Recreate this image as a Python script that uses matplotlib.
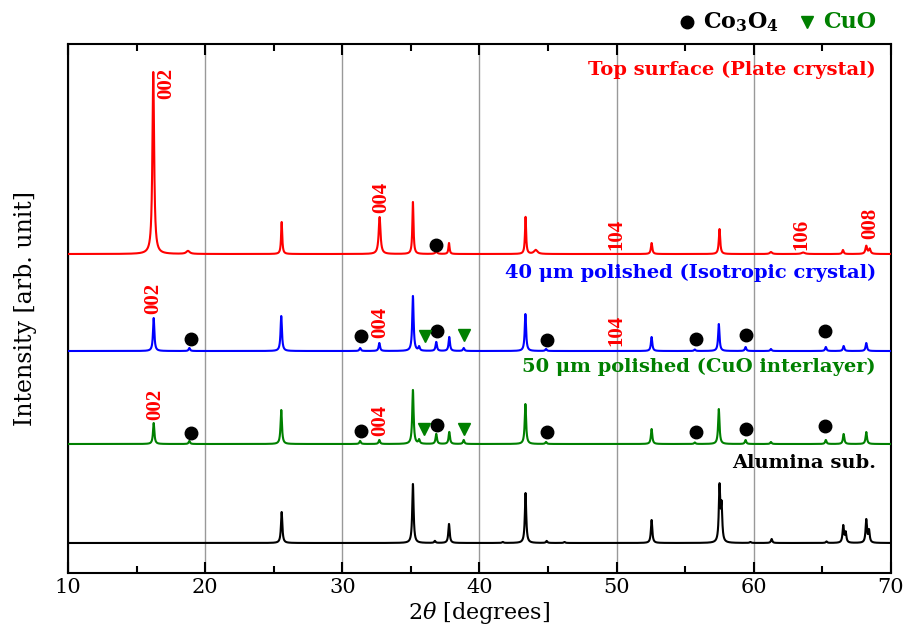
import numpy as np
import matplotlib
matplotlib.use("Agg")
import matplotlib.pyplot as plt

plt.rcParams['font.family'] = ['DejaVu Serif']
plt.rcParams['mathtext.fontset'] = 'dejavuserif'

# peak tables (2theta, height, fwhm) -- heights in arb. units
top_pos = [16.22, 18.75, 25.58, 32.72, 35.15, 36.85, 37.78, 43.36, 44.1, 52.55, 57.5, 61.25, 63.6, 66.5, 68.2, 68.45]
top_h = [182, 3, 32, 37, 52, 2, 11, 37, 4, 11, 25, 2, 1.5, 4, 8, 5]
top_w = [0.15, 0.3, 0.1, 0.16, 0.1, 0.2, 0.1, 0.1, 0.3, 0.12, 0.12, 0.2, 0.3, 0.12, 0.15, 0.15]

p40_pos = [16.25, 18.85, 25.55, 31.3, 32.7, 35.15, 35.6, 36.85, 37.8, 38.85, 43.35, 44.85, 52.55, 55.7, 57.45, 59.4, 61.25, 65.25, 66.55, 68.2]
p40_h = [33, 3, 35, 3, 8, 55, 4, 9, 14, 3, 37, 2, 14, 1.5, 27, 4, 2, 4, 5, 8]

p50_pos = [16.25, 18.85, 25.55, 31.3, 32.7, 35.15, 35.6, 36.85, 37.8, 38.85, 43.35, 44.85, 52.55, 55.7, 57.45, 59.4, 61.25, 65.25, 66.55, 68.2]
p50_h = [21, 3, 34, 3, 4, 54, 4, 10, 12, 4, 40, 2, 15, 1.5, 35, 4, 2, 4, 10, 12]

sub_pos = [25.58, 35.15, 36.75, 37.78, 41.7, 43.36, 44.9, 46.2, 52.55, 57.5, 57.65, 59.75, 61.3, 65.3, 66.52, 66.7, 68.2, 68.4]
sub_h = [31, 59, 2, 19, 1, 50, 2, 1, 23, 55, 35, 1, 4, 1.5, 17, 10, 23, 12]

offsets = [319, 222, 129, 30]

# phase markers: positions and height above baseline
co_top_x = [36.82]
co_top_y = [9]
co_40_x = [18.97, 31.36, 36.9, 44.9, 55.77, 59.42, 65.18]
co_40_y = [12, 15, 20, 11, 12, 16, 20]
cuo_40_x = [36.02, 38.86]
cuo_40_y = [15, 16]
co_50_x = [18.97, 31.36, 36.9, 44.9, 55.77, 59.42, 65.18]
co_50_y = [11, 13, 19, 12, 12, 15, 18]
cuo_50_x = [35.95, 38.86]
cuo_50_y = [15, 15]

# hkl labels (x, y above baseline)
hkl_top = [("002", 17.15, 171), ("004", 32.85, 57), ("104", 50.0, 20), ("106", 63.5, 20), ("008", 68.5, 31)]
hkl_40 = [("002", 16.2, 53), ("004", 32.8, 29), ("104", 50.0, 21)]
hkl_50 = [("002", 16.4, 40), ("004", 32.8, 24)]


def pattern(x, pos, h, w=None):
    y = np.zeros_like(x)
    if w is None:
        w = [0.12] * len(pos)
    for p, a, g in zip(pos, h, w):
        y += a / (1 + ((x - p) / (g / 2)) ** 2)
    return y


x = np.linspace(10, 70, 12001)
curves = [
    (pattern(x, top_pos, top_h, top_w), 'red'),
    (pattern(x, p40_pos, p40_h), 'blue'),
    (pattern(x, p50_pos, p50_h), 'green'),
    (pattern(x, sub_pos, sub_h), 'black'),
]

fig = plt.figure(figsize=(9.06, 6.39), dpi=100)
ax = fig.add_axes([0.075, 0.1033, 0.9084, 0.8278])

for (y, c), off in zip(curves, offsets):
    ax.plot(x, y + off, color=c, lw=1.5, zorder=3)

ms_c = 9
ms_t = 8
ax.plot(co_top_x, np.array(co_top_y) + offsets[0], 'o', color='black', ms=ms_c, zorder=4)
ax.plot(co_40_x, np.array(co_40_y) + offsets[1], 'o', color='black', ms=ms_c, zorder=4)
ax.plot(cuo_40_x, np.array(cuo_40_y) + offsets[1], 'v', color='green', ms=ms_t, zorder=4)
ax.plot(co_50_x, np.array(co_50_y) + offsets[2], 'o', color='black', ms=ms_c, zorder=4)
ax.plot(cuo_50_x, np.array(cuo_50_y) + offsets[2], 'v', color='green', ms=ms_t, zorder=4)

for labels, off in [(hkl_top, offsets[0]), (hkl_40, offsets[1]), (hkl_50, offsets[2])]:
    for t, xx, yy in labels:
        ax.text(xx, yy + off, t, color='red', rotation=90, ha='center', va='center',
                fontsize=15, fontweight='bold', family='Liberation Serif', zorder=5)

lab_kw = dict(ha='right', va='center', fontsize=14, fontweight='bold')
ax.text(68.9, 503, "Top surface (Plate crystal)", color='red', **lab_kw)
ax.text(68.9, 300, "40 μm polished (Isotropic crystal)", color='blue', **lab_kw)
ax.text(68.9, 206, "50 μm polished (CuO interlayer)", color='green', **lab_kw)
ax.text(68.9, 110, "Alumina sub.", color='black', **lab_kw)

# legend on top of the frame
ax.plot([0.752], [1.0416], 'o', color='black', ms=ms_c, transform=ax.transAxes, clip_on=False)
ax.text(0.772, 1.0416, r"Co$_\mathbf{3}$O$_\mathbf{4}$", transform=ax.transAxes, ha='left', va='center',
        fontsize=16, fontweight='bold')
ax.plot([0.898], [1.0416], 'v', color='green', ms=ms_t, transform=ax.transAxes, clip_on=False)
ax.text(0.918, 1.0416, "CuO", color='green', transform=ax.transAxes, ha='left', va='center',
        fontsize=16, fontweight='bold')

ax.set_xlim(10, 70)
ax.set_ylim(0, 529)
ax.set_xticks([10, 20, 30, 40, 50, 60, 70])
ax.set_xticks([15, 25, 35, 45, 55, 65], minor=True)
ax.set_yticks([])
ax.tick_params(axis='x', which='both', direction='in', top=True, labelsize=15, width=1.5)
ax.tick_params(axis='x', which='major', length=8)
ax.tick_params(axis='x', which='minor', length=5)
ax.grid(True, axis='x', color='gray', lw=1, alpha=0.8)
for s in ax.spines.values():
    s.set_linewidth(1.5)

ax.set_xlabel(r"2$\theta$ [degrees]", fontsize=16, labelpad=2)
ax.set_ylabel("Intensity [arb. unit]", fontsize=17, labelpad=22)

fig.savefig("out.png", dpi=100)
